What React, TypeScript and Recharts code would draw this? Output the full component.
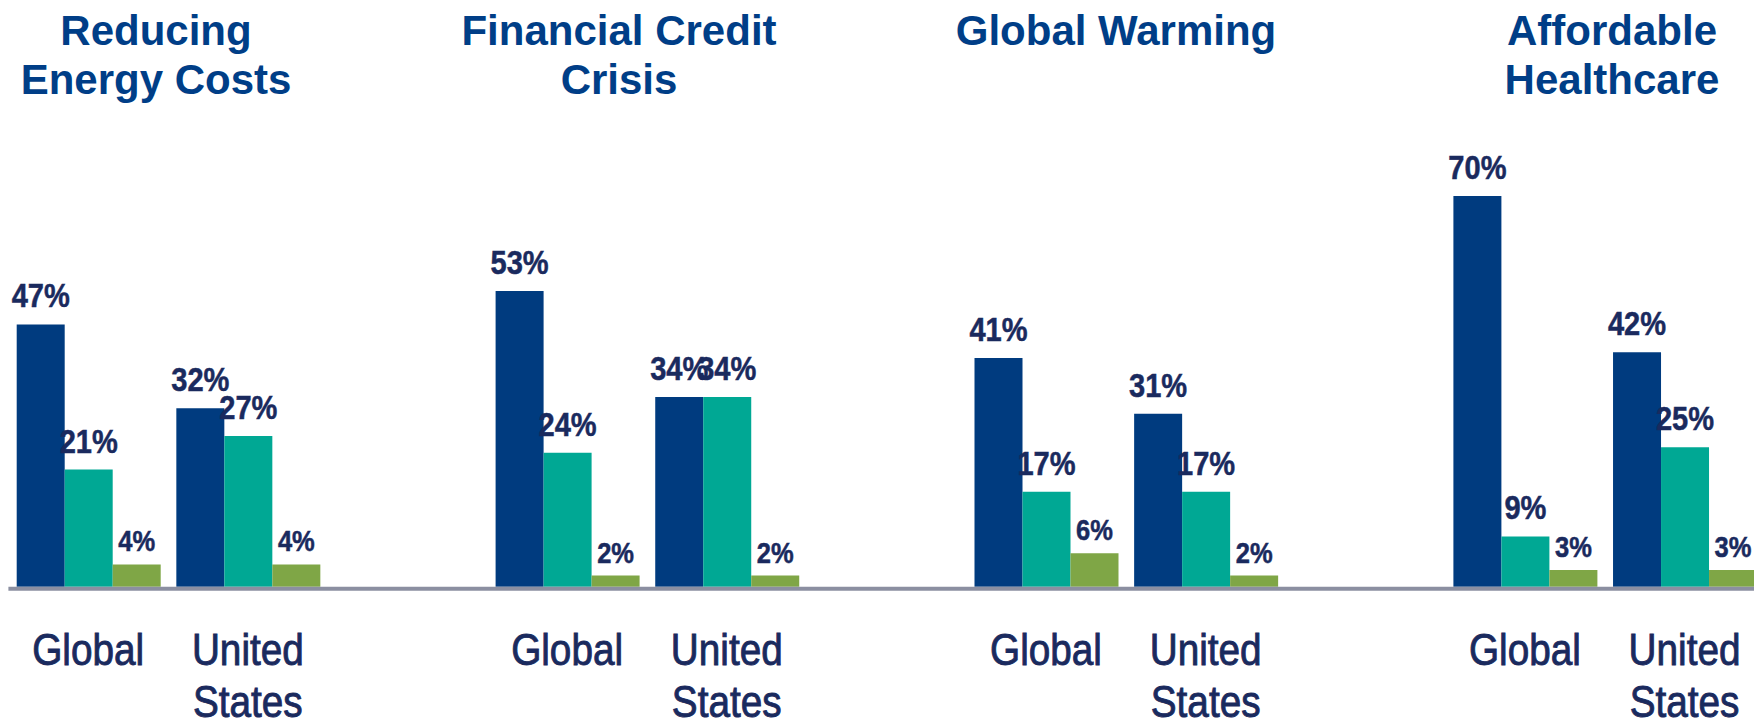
import React from "react";
import { BarChart, Bar, XAxis, YAxis, LabelList } from "recharts";

// ---- Data ----
const topicTitles: string[][] = [
  ["Reducing", "Energy Costs"],
  ["Financial Credit", "Crisis"],
  ["Global Warming"],
  ["Affordable", "Healthcare"],
];
const regions: string[] = ["Global", "United States"];

// values per topic x region, in order: topic1-Global, topic1-US, topic2-Global, ...
const seriesBlue: number[] = [47, 32, 53, 34, 41, 31, 70, 42];
const seriesTeal: number[] = [21, 27, 24, 34, 17, 17, 9, 25];
const seriesGreen: number[] = [4, 4, 2, 2, 6, 2, 3, 3];

// ---- Build table for the library ----
type Row = { id: string; label: string; blue: number | null; teal: number | null; green: number | null };
const rows: Row[] = [];
topicTitles.forEach((t, ti) => {
  regions.forEach((r, ri) => {
    const k = ti * regions.length + ri;
    rows.push({ id: `t${ti}-r${ri}`, label: r, blue: seriesBlue[k], teal: seriesTeal[k], green: seriesGreen[k] });
  });
  rows.push({ id: `t${ti}-gap`, label: "", blue: null, teal: null, green: null });
});
const labelById: Record<string, string> = {};
rows.forEach((r) => (labelById[r.id] = r.label));

// ---- Styles / layout ----
const FONT = "'Liberation Sans', Arial, Helvetica, sans-serif";
const C_BLUE = "#003B7F";
const C_TEAL = "#00A894";
const C_GREEN = "#7FA646";
const C_TITLE = "#003E87";
const C_LABEL = "#1A2A5E";
const C_AXIS = "#8B8FA1";
const SQUEEZE = 0.88;
const titleCenters = [156, 619, 1116, 1612];

const squeezeAt = (cx: number) => `matrix(${SQUEEZE} 0 0 1 ${cx * (1 - SQUEEZE)} 0)`;

const RegionTick = (props: any) => {
  const { x, y, payload } = props;
  const label = labelById[payload?.value] || "";
  if (!label) return null;
  const words = label.split(" ");
  return (
    <text
      x={x}
      y={y + 78}
      textAnchor="middle"
      fontSize={44}
      fontFamily={FONT}
      fill={C_LABEL}
      stroke={C_LABEL}
      strokeWidth={0.9}
      transform={squeezeAt(x)}
    >
      {words.map((w: string, i: number) => (
        <tspan key={i} x={x} dy={i === 0 ? 0 : 52}>
          {w}
        </tspan>
      ))}
    </text>
  );
};

const makeValueLabel = (fontSize: number, gap: number) => (props: any) => {
  const { x, y, width, value } = props;
  if (value === null || value === undefined) return null;
  const cx = Number(x) + Number(width) / 2;
  return (
    <text
      x={cx}
      y={Number(y) - gap}
      textAnchor="middle"
      fontSize={fontSize}
      fontWeight="bold"
      fontFamily={FONT}
      fill={C_LABEL}
      stroke={C_LABEL}
      strokeWidth={0.5}
      transform={squeezeAt(cx)}
    >
      {`${value}%`}
    </text>
  );
};

const BigLabel = makeValueLabel(33, 17);
const SmallLabel = makeValueLabel(29, 13);

export default function App() {
  return (
    <div
      style={{
        position: "absolute",
        left: 0,
        top: 0,
        width: 1754,
        height: 718,
        overflow: "hidden",
        background: "#ffffff",
      }}
    >
      <BarChart
        width={1924}
        height={718}
        data={rows}
        margin={{ top: 28.7, right: 0, bottom: 0, left: 8.4 }}
        barCategoryGap={8.3}
        barGap={0}
      >
        <YAxis hide domain={[0, 100]} />
        <XAxis
          dataKey="id"
          interval={0}
          tickLine={false}
          tickSize={0}
          tickMargin={0}
          height={131.3}
          tick={<RegionTick />}
          axisLine={{ stroke: C_AXIS, strokeWidth: 4, transform: "translate(0,2)" } as any}
        />
        <Bar dataKey="blue" fill={C_BLUE} isAnimationActive={false}>
          <LabelList dataKey="blue" content={BigLabel} />
        </Bar>
        <Bar dataKey="teal" fill={C_TEAL} isAnimationActive={false}>
          <LabelList dataKey="teal" content={BigLabel} />
        </Bar>
        <Bar dataKey="green" fill={C_GREEN} isAnimationActive={false}>
          <LabelList dataKey="green" content={SmallLabel} />
        </Bar>
      </BarChart>
      <svg
        width={1754}
        height={120}
        style={{ position: "absolute", left: 0, top: 0, pointerEvents: "none" }}
      >
        {topicTitles.map((lines, i) => (
          <text
            key={i}
            x={titleCenters[i]}
            y={45}
            textAnchor="middle"
            fontSize={42}
            fontWeight="bold"
            fontFamily={FONT}
            fill={C_TITLE}
          >
            {lines.map((l, j) => (
              <tspan key={j} x={titleCenters[i]} dy={j === 0 ? 0 : 49}>
                {l}
              </tspan>
            ))}
          </text>
        ))}
      </svg>
    </div>
  );
}
